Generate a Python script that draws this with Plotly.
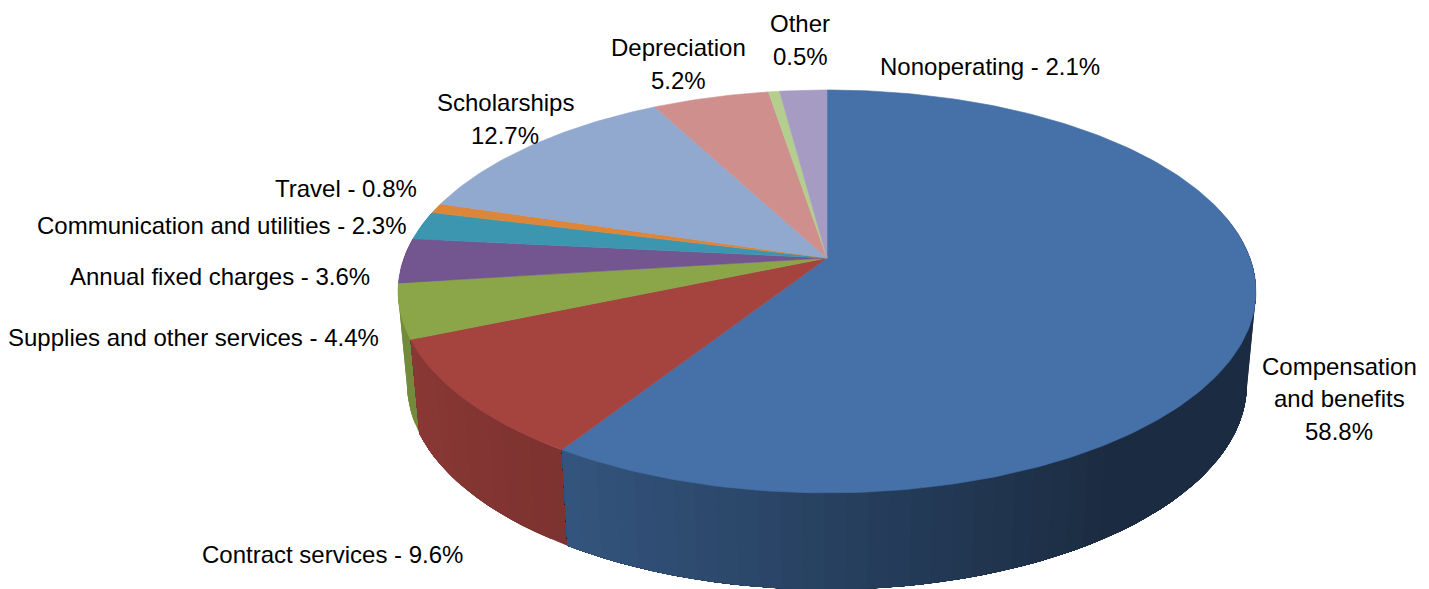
import numpy as np
import plotly.graph_objects as go

# ---- data (clockwise from 12 o'clock) ----
categories = ["Compensation and benefits", "Contract services", "Supplies and other services",
              "Annual fixed charges", "Communication and utilities", "Travel", "Scholarships",
              "Depreciation", "Other", "Nonoperating"]
values = [58.8, 9.6, 4.4, 3.6, 2.3, 0.8, 12.7, 5.2, 0.5, 2.1]
colors = ["#4571a8", "#a5433f", "#8aa648", "#735590", "#3c96b0",
          "#dc863a", "#91a8cf", "#cf8f8d", "#b5cd8f", "#a59bc3"]

# label lines: (text, centre x, centre y)
label_lines = [
    ("Compensation", 1339, 366), ("and benefits", 1339, 398.5), ("58.8%", 1339, 431),
    ("Contract services - 9.6%", 332, 554),
    ("Supplies and other services - 4.4%", 193.5, 337),
    ("Annual fixed charges - 3.6%", 220, 276),
    ("Communication and utilities - 2.3%", 222, 225),
    ("Travel - 0.8%", 346, 188),
    ("Scholarships", 505, 102), ("12.7%", 505, 135),
    ("Depreciation", 678.5, 47), ("5.2%", 678.5, 80),
    ("Other", 800, 23), ("0.5%", 800, 56),
    ("Nonoperating - 2.1%", 990, 66),
]

# ---- perspective model of the disc ----
CX = 827
K = 0.166
TOP = dict(cy=258, a=423, b=195.9)
BOT = dict(cy=350.5, a=414, b=199.4)
WARP = np.radians(1.0)


def project(theta, disc):
    t = theta + WARP * np.sin(theta / 2)
    u, v = np.sin(t), np.cos(t)
    w = 1 + K * v
    return CX + disc["a"] * u / w, disc["cy"] - disc["b"] * v / w


def shade(hex_col, f):
    r, g, b = (int(hex_col[i:i + 2], 16) for i in (1, 3, 5))
    return f"rgb({r * f:.0f},{g * f:.0f},{b * f:.0f})"


def wall_factor(theta):
    return float(np.interp(np.sin(theta), [-1, -0.95, -0.52, 0, 0.4, 0.6, 1],
                           [0.85, 0.84, 0.75, 0.58, 0.45, 0.39, 0.39]))


edges = np.cumsum([0] + values) / sum(values) * 2 * np.pi
fig = go.Figure()

# side walls, back slices first: each shade step is painted from its start to the
# slice end, so later steps overlap earlier ones without seams
for i in reversed(range(len(values))):
    t0, t1 = edges[i], edges[i + 1]
    n = max(1, int(np.ceil((t1 - t0) / np.radians(2.5))))
    ts = np.linspace(t0, t1, n + 1)
    for k in range(n):
        a, b = ts[k], ts[k + 1]
        if np.cos((a + b) / 2) >= 0.25:
            continue
        th = np.linspace(a, t1, max(3, n - k + 2))
        xt, yt = project(th, TOP)
        xb, yb = project(th[::-1], BOT)
        col = shade(colors[i], wall_factor((a + b) / 2))
        fig.add_trace(go.Scatter(x=np.r_[xt, xb, xt[0]], y=np.r_[yt, yb, yt[0]], mode="lines",
                                 fill="toself", fillcolor=col, line=dict(width=0),
                                 hoverinfo="skip", showlegend=False))

# top faces
for i, name in enumerate(categories):
    th = np.linspace(edges[i], edges[i + 1], max(3, int(values[i] * 4) + 2))
    xs, ys = project(th, TOP)
    fig.add_trace(go.Scatter(x=np.r_[CX, xs, CX], y=np.r_[TOP["cy"], ys, TOP["cy"]], mode="lines",
                             fill="toself", fillcolor=colors[i], line=dict(color=colors[i], width=0.6),
                             name=name, showlegend=False, hoverinfo="name"))

for text, x, y in label_lines:
    fig.add_annotation(x=x, y=y, text=text, showarrow=False, xanchor="center", yanchor="middle",
                       font=dict(family="Liberation Sans, Arial, sans-serif", size=24, color="#000000"))

fig.update_layout(width=1429, height=589, margin=dict(l=0, r=0, t=0, b=0),
                  paper_bgcolor="white", plot_bgcolor="white", showlegend=False)
fig.update_xaxes(range=[0, 1429], visible=False, fixedrange=True)
fig.update_yaxes(range=[589, 0], visible=False, fixedrange=True)

fig.write_html("out.html", config={"displayModeBar": False},
               post_script="document.body.style.margin='0';document.body.style.overflow='hidden';")
